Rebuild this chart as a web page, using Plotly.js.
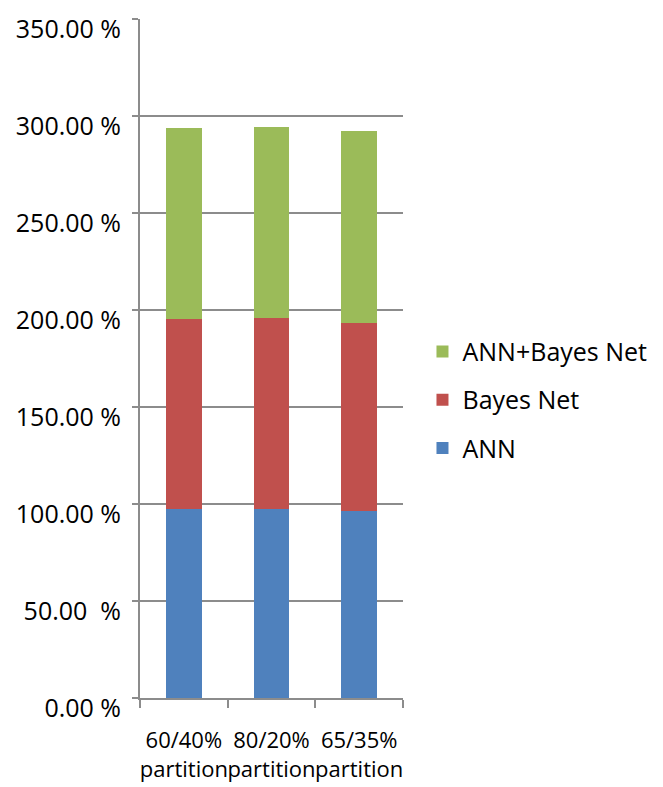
<!DOCTYPE html>
<html>
<head>
<meta charset="utf-8">
<script src="https://cdn.plot.ly/plotly-3.0.1.min.js"></script>
<style>html,body{margin:0;padding:0;background:#fff;}#chart{width:663px;height:787px;}</style>
</head>
<body>
<div id="chart"></div>
<script>
const categories = ["60/40%<br>partition", "80/20%<br>partition", "65/35%<br>partition"];
const annValues = [97.6, 97.6, 96.5];
const bayesValues = [97.9, 98.4, 96.9];
const comboValues = [98.5, 98.5, 99.0];
const tickValues = [0, 50, 100, 150, 200, 250, 300, 350];
const tickLabels = ["0.00 %", "50.00  %", "100.00 %", "150.00 %", "200.00 %", "250.00 %", "300.00 %", "350.00 %"];

const FONT = "Open Sans, Liberation Sans, sans-serif";
const FS = 25;
const common = {type: "bar", x: categories, width: 0.41, marker: {line: {width: 0}}};
const data = [
  Object.assign({}, common, {name: "ANN", y: annValues, marker: {color: "#4F81BD"}, legend: "legend3"}),
  Object.assign({}, common, {name: "Bayes Net", y: bayesValues, marker: {color: "#C0504D"}, legend: "legend2"}),
  Object.assign({}, common, {name: "ANN+Bayes Net", y: comboValues, marker: {color: "#9BBB59"}, legend: "legend"})
];
function leg(y) {
  return {x: 1.07, xanchor: "left", y: y, yanchor: "middle",
          font: {family: FONT, size: FS, color: "#000"}, bgcolor: "rgba(0,0,0,0)", borderwidth: 0};
}
const layout = {
  width: 663, height: 787,
  margin: {l: 140, r: 259, t: 19, b: 89, pad: 0},
  barmode: "stack",
  paper_bgcolor: "#fff", plot_bgcolor: "#fff",
  font: {family: FONT, size: FS, color: "#000"},
  showlegend: true,
  legend: leg(0.510),
  legend2: leg(0.439),
  legend3: leg(0.368),
  xaxis: {type: "category", showline: true, linecolor: "#8c8c8c", linewidth: 2, tickangle: 0,
          ticks: "outside", tickson: "boundaries", ticklen: 8, tickcolor: "#8c8c8c", tickwidth: 2,
          showgrid: false, tickfont: {family: FONT, size: 22, color: "#000"}, fixedrange: true,
          ticklabelstandoff: 22},
  yaxis: {range: [0, 350], tickmode: "array", tickvals: tickValues, ticktext: tickLabels,
          showline: true, linecolor: "#8c8c8c", linewidth: 2, ticks: "outside", ticklen: 6,
          tickcolor: "#8c8c8c", tickwidth: 2, showgrid: true, gridcolor: "#8c8c8c", gridwidth: 2,
          zeroline: false, tickfont: {family: FONT, size: FS, color: "#000"}, ticklabelstandoff: 6,
          ticklabelshift: 10}
};
Plotly.newPlot("chart", data, layout, {displayModeBar: false, staticPlot: true});
</script>
</body>
</html>
